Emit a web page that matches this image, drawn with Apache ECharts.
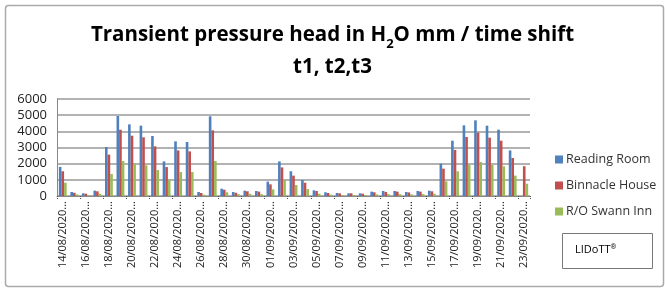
<!DOCTYPE html>
<html>
<head>
<meta charset="utf-8">
<script src="https://cdn.jsdelivr.net/npm/echarts@6/dist/echarts.min.js"></script>
<style>
  html, body { margin: 0; padding: 0; background: #fff; }
  #chart { width: 665px; height: 288px; }
</style>
</head>
<body>
<div id="chart"></div>
<script>
// dates (every day, labels shown every other day)
const dates = [
    '14/08/2020', '15/08/2020', '16/08/2020', '17/08/2020', '18/08/2020', '19/08/2020',
    '20/08/2020', '21/08/2020', '22/08/2020', '23/08/2020', '24/08/2020', '25/08/2020',
    '26/08/2020', '27/08/2020', '28/08/2020', '29/08/2020', '30/08/2020', '31/08/2020',
    '01/09/2020', '02/09/2020', '03/09/2020', '04/09/2020', '05/09/2020', '06/09/2020',
    '07/09/2020', '08/09/2020', '09/09/2020', '10/09/2020', '11/09/2020', '12/09/2020',
    '13/09/2020', '14/09/2020', '15/09/2020', '16/09/2020', '17/09/2020', '18/09/2020',
    '19/09/2020', '20/09/2020', '21/09/2020', '22/09/2020', '23/09/2020'
];

const seriesNames = ['Reading Room', 'Binnacle House', 'R/O Swann Inn'];

const readingRoom = [
    1800, 250, 165, 330, 3030, 4950, 4430, 4350, 3710, 2140, 3380, 3340,
    250, 4930, 450, 250, 330, 310, 890, 2140, 1530, 990, 350, 230,
    185, 165, 165, 270, 310, 310, 250, 310, 330, 2000, 3420, 4370,
    4680, 4350, 4100, 2820, 0
];
const binnacleHouse = [
    1530, 200, 145, 290, 2560, 4100, 3730, 3630, 3070, 1790, 2820, 2760,
    185, 4060, 390, 200, 290, 270, 720, 1770, 1260, 820, 310, 185,
    165, 165, 145, 230, 250, 270, 220, 270, 290, 1690, 2850, 3650,
    3920, 3610, 3420, 2350, 1840
];
const swannInn = [
    820, 100, 60, 140, 1360, 2160, 2000, 1900, 1610, 1010, 1480, 1480,
    80, 2160, 230, 120, 140, 120, 410, 1010, 680, 430, 140, 80,
    60, 60, 60, 100, 120, 120, 100, 120, 140, 910, 1530, 1920,
    2100, 1920, 1840, 1260, 760
];

const colors = ['#4F81BD', '#C0504D', '#9BBB59'];
const font = 'Open Sans';

const chart = echarts.init(document.getElementById('chart'));

function barSeries(name, data, color) {
    return {
        name: name,
        type: 'bar',
        data: data,
        barGap: '0%',
        barCategoryGap: '32%',
        itemStyle: { color: color },
        animation: false
    };
}

const option = {
    backgroundColor: '#fff',
    color: colors,
    textStyle: { fontFamily: font },
    title: {
        text: '{a|Transient pressure head in H}{sub|2}{a|O mm / time shift}\n{a|t1, t2,t3}',
        left: 'center',
        top: 14,
        textStyle: {
            rich: {
                a: { fontSize: 20.5, fontWeight: 'bold', color: '#000', fontFamily: font, lineHeight: 32 },
                sub: { fontSize: 13, fontWeight: 'bold', color: '#000', fontFamily: font, lineHeight: 19, verticalAlign: 'bottom' }
            }
        }
    },
    legend: {
        data: seriesNames,
        orient: 'vertical',
        left: 550,
        top: 148,
        itemWidth: 8,
        itemHeight: 8,
        itemGap: 13,
        icon: 'rect',
        textStyle: { fontSize: 12.5, color: '#333', fontFamily: font, padding: [0, 0, 0, -2] }
    },
    grid: {
        left: 57,
        right: 135,
        top: 99,
        bottom: 92
    },
    xAxis: {
        type: 'category',
        data: dates,
        axisLine: { lineStyle: { color: '#888' } },
        axisTick: { show: true, interval: 1, length: 4, lineStyle: { color: '#555', type: 'dotted' } },
        axisLabel: {
            interval: 1,
            rotate: 90,
            fontSize: 11,
            color: '#222',
            margin: 5,
            formatter: v => v + '...'
        }
    },
    yAxis: {
        type: 'value',
        min: 0,
        max: 6000,
        interval: 1000,
        axisLine: { show: true, lineStyle: { color: '#888' } },
        axisTick: { show: false },
        splitLine: { lineStyle: { color: '#999', width: 1.5 } },
        axisLabel: { fontSize: 13, color: '#222', margin: 10, formatter: v => String(v) }
    },
    graphic: [
        {
            type: 'rect',
            left: 3,
            top: 3,
            shape: { width: 658, height: 281, r: 3 },
            style: { fill: 'none', stroke: '#aaa', lineWidth: 1.5 },
            silent: true
        },
        {
            type: 'rect',
            left: 562,
            top: 233,
            shape: { width: 90, height: 35 },
            style: { fill: '#fff', stroke: '#777', lineWidth: 1 }
        },
        {
            type: 'text',
            left: 575,
            top: 243,
            style: {
                text: '{a|LIDoTT}{s|®}',
                rich: {
                    a: { fontSize: 11, color: '#444', fontFamily: font, lineHeight: 14 },
                    s: { fontSize: 7, color: '#444', fontFamily: font, lineHeight: 14, verticalAlign: 'top' }
                }
            }
        }
    ],
    series: [
        barSeries(seriesNames[0], readingRoom, colors[0]),
        barSeries(seriesNames[1], binnacleHouse, colors[1]),
        barSeries(seriesNames[2], swannInn, colors[2])
    ]
};

chart.setOption(option);
</script>
</body>
</html>
